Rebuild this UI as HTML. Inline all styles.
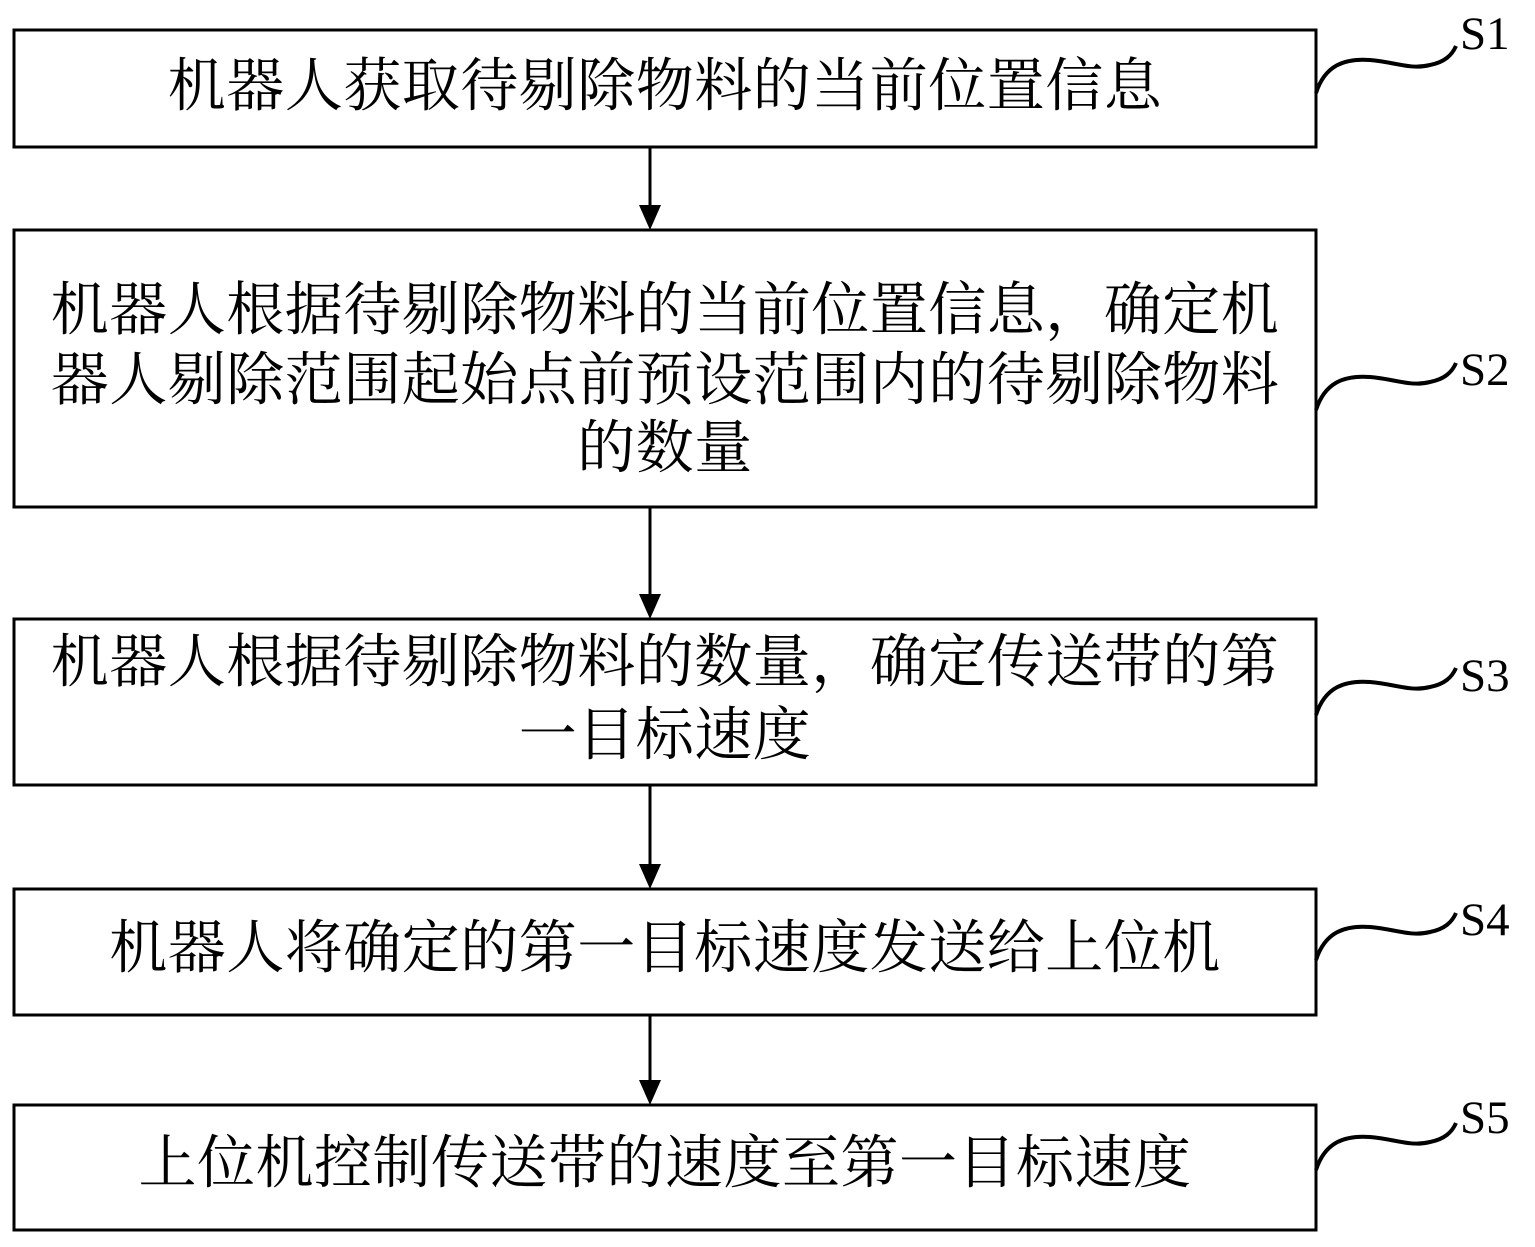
<!DOCTYPE html>
<html><head><meta charset="utf-8"><style>
html,body{margin:0;padding:0;background:#fff;}
svg{display:block}
text{font-family:"Liberation Serif","Noto Serif CJK SC",serif;fill:#000}
.c{font-size:58px;text-anchor:middle;dominant-baseline:central;letter-spacing:0.5px}
.s{font-size:47px;dominant-baseline:central}
</style></head><body>
<svg width="1535" height="1247" viewBox="0 0 1535 1247" xmlns="http://www.w3.org/2000/svg">
<g fill="none" stroke="#000" stroke-width="3">
<rect x="14" y="30" width="1302" height="117"/>
<rect x="14" y="230" width="1302" height="277"/>
<rect x="14" y="619" width="1302" height="166"/>
<rect x="14" y="889" width="1302" height="126"/>
<rect x="14" y="1105" width="1302" height="125"/>
<line x1="650" y1="147" x2="650" y2="208"/>
<line x1="650" y1="507" x2="650" y2="597"/>
<line x1="650" y1="785" x2="650" y2="867"/>
<line x1="650" y1="1015" x2="650" y2="1083"/>
<g stroke-width="4">
<path d="M1316,93 C1325,65 1345,58 1370,60 C1395,62 1410,70 1430,65 C1445,62 1452,55 1456,46"/>
<path d="M1316,410 C1325,382 1345,375 1370,377 C1395,379 1410,387 1430,382 C1445,379 1452,372 1456,363"/>
<path d="M1316,715 C1325,687 1345,680 1370,682 C1395,684 1410,692 1430,687 C1445,684 1452,677 1456,668"/>
<path d="M1316,960 C1325,932 1345,925 1370,927 C1395,929 1410,937 1430,932 C1445,929 1452,922 1456,913"/>
<path d="M1316,1170 C1325,1142 1345,1135 1370,1137 C1395,1139 1410,1147 1430,1142 C1445,1139 1452,1132 1456,1123"/>
</g>
</g>
<g fill="#000">
<polygon points="639,205 661,205 650,230"/>
<polygon points="639,594 661,594 650,619"/>
<polygon points="639,864 661,864 650,889"/>
<polygon points="639,1080 661,1080 650,1105"/>
</g>
<text class="c" x="665" y="86">机器人获取待剔除物料的当前位置信息</text>
<text class="c" x="665" y="310">机器人根据待剔除物料的当前位置信息，确定机</text>
<text class="c" x="665" y="380">器人剔除范围起始点前预设范围内的待剔除物料</text>
<text class="c" x="665" y="448">的数量</text>
<text class="c" x="665" y="662">机器人根据待剔除物料的数量，确定传送带的第</text>
<text class="c" x="665" y="735">一目标速度</text>
<text class="c" x="665" y="948">机器人将确定的第一目标速度发送给上位机</text>
<text class="c" x="665" y="1163">上位机控制传送带的速度至第一目标速度</text>
<text class="s" x="1460" y="34">S1</text>
<text class="s" x="1460" y="370">S2</text>
<text class="s" x="1460" y="676">S3</text>
<text class="s" x="1460" y="920">S4</text>
<text class="s" x="1460" y="1118">S5</text>
</svg>
</body></html>
